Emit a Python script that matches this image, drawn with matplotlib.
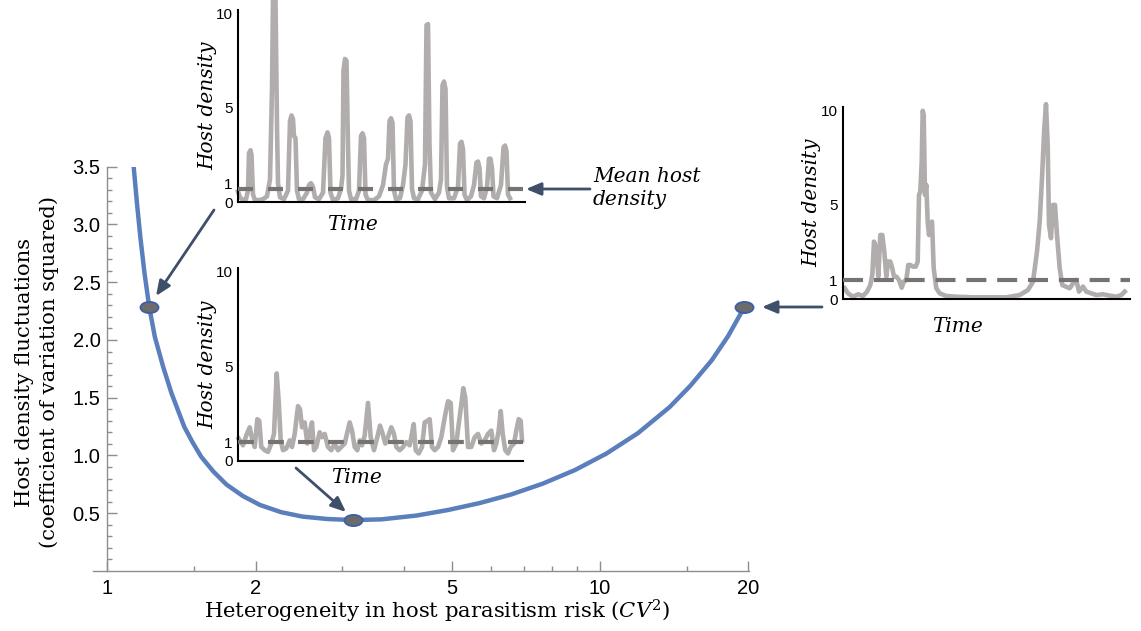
import matplotlib
matplotlib.use("Agg")
import matplotlib.pyplot as plt
from matplotlib.path import Path
from matplotlib.transforms import Affine2D
from matplotlib.patches import FancyArrowPatch
from matplotlib.ticker import FixedLocator, NullFormatter

plt.rcParams['mathtext.fontset'] = 'dejavuserif'

# main curve: heterogeneity in parasitism risk vs host density fluctuations
risk_cv2 = [1.1308, 1.1478, 1.1667, 1.1888, 1.2163, 1.2484, 1.2979, 1.3500, 1.4326, 1.4901,
            1.5504, 1.6414, 1.7452, 1.8843, 2.0426, 2.2494, 2.4889, 2.7997, 3.1543, 3.6002,
            4.2414, 4.9134, 5.6978, 6.5962, 7.6614, 8.8967, 10.299, 11.948, 13.846, 15.229,
            16.866, 18.197, 19.634]
host_cv2 = [3.50, 3.192, 2.889, 2.587, 2.284, 2.027, 1.767, 1.537, 1.248, 1.112,
            0.989, 0.861, 0.748, 0.649, 0.571, 0.510, 0.471, 0.450, 0.441, 0.447,
            0.480, 0.528, 0.588, 0.662, 0.757, 0.874, 1.016, 1.194, 1.419, 1.600,
            1.825, 2.033, 2.284]

# the three highlighted points
point_x = [1.2163, 3.1543, 19.634]
point_y = [2.284, 0.441, 2.284]

x_major = [1, 2, 5, 10, 20]
x_minor = [1.5, 3, 4, 6, 7, 8, 9, 15]
y_major = [0.5, 1.0, 1.5, 2.0, 2.5, 3.0, 3.5]
y_minor = [0.1, 0.2, 0.3, 0.4, 0.6, 0.7, 0.8, 0.9, 1.1, 1.2, 1.3, 1.4, 1.6, 1.7, 1.8, 1.9,
           2.1, 2.2, 2.3, 2.4, 2.6, 2.7, 2.8, 2.9, 3.1, 3.2, 3.3, 3.4]

# inset 1: low heterogeneity (top)
t_low = [0, 2, 5, 8, 10, 11, 12.5, 13.5, 15, 17, 21, 25, 29, 32, 34, 35, 37.5, 39, 40, 42,
         46, 50, 52, 53.5, 55, 56, 57.5, 59, 61, 65, 69, 71, 73, 75, 77, 81, 85, 87.5, 89.5,
         91, 92.5, 95, 100, 103, 104.5, 105.5, 107, 108.5, 110, 111, 113, 118, 121, 123,
         124.5, 126, 127.5, 130, 136, 141, 145, 148, 150, 151.5, 153, 154.5, 156, 158, 162,
         165, 167.5, 169.5, 171, 172.5, 174, 176, 180, 184, 187, 188.5, 190, 191.5, 193, 197,
         201, 203, 204.5, 206, 207.5, 209, 211, 216, 220, 222, 223.5, 225, 226.5, 229, 233,
         236, 238.5, 240, 241.5, 243, 246, 249, 251, 252.5, 254, 255.5, 259, 263, 265.5,
         267, 268.5, 270, 272]
v_low = [0.55, 0.25, 0.1, 0.15, 0.6, 2.6, 2.75, 2.5, 0.4, 0.1, 0.1, 0.15, 0.3, 1.2, 6.0,
         10.8, 10.8, 4.0, 1.0, 0.25, 0.15, 0.6, 4.3, 4.6, 4.4, 3.5, 3.4, 0.6, 0.15, 0.15,
         0.5, 0.9, 1.0, 0.8, 0.25, 0.15, 0.5, 3.4, 3.7, 3.4, 0.5, 0.1, 0.2, 0.7, 1.4, 7.0,
         7.6, 7.5, 3.0, 0.6, 0.15, 0.15, 0.6, 3.5, 3.65, 3.4, 0.4, 0.1, 0.1, 0.3, 0.9, 2.0,
         2.3, 4.3, 4.45, 4.2, 0.6, 0.15, 0.2, 0.9, 2.0, 4.5, 4.6, 4.3, 0.7, 0.2, 0.15, 0.6,
         2.0, 9.4, 9.45, 3.0, 0.5, 0.15, 0.5, 1.2, 6.2, 6.4, 6.0, 0.8, 0.2, 0.2, 0.8, 3.1,
         3.2, 2.8, 0.4, 0.1, 0.3, 0.9, 2.1, 2.15, 1.8, 0.3, 0.2, 0.8, 2.3, 2.3, 1.8, 0.3,
         0.2, 0.9, 2.9, 3.0, 2.7, 0.4, 0.2]
mean_low = 0.7

# inset 2: intermediate heterogeneity (middle)
t_mid = [0.7, 5, 8.3, 11.7, 14, 16.7, 19.3, 21.3, 23.3, 26.7, 30, 33.3, 36, 38.7, 40.7,
         42.7, 45, 48.3, 51.7, 54, 56.7, 60, 62, 64, 66.7, 69.3, 71.7, 74, 76, 78.3, 81.7,
         84, 86.7, 90, 93.3, 96.7, 100, 103.3, 106.7, 109.3, 111.7, 114, 116.7, 119.3,
         121.7, 124, 126.7, 130, 132.7, 136, 139.3, 142, 144.7, 147.3, 150, 153.3, 156,
         158.3, 161.7, 165, 168.3, 171.7, 173.3, 175.7, 177.7, 180.7, 184, 186.7, 189.3,
         191.7, 194, 196.7, 200, 203.3, 206.7, 210, 212.7, 215, 218.3, 220.7, 223.3, 225.3,
         227.3, 230, 233.3, 236.7, 240, 243.3, 246.7, 250, 253.3, 256, 258.3, 260.7, 262.7,
         264.7, 267.3, 270, 272.7, 276, 278.3, 280.7, 282.7, 284]
v_mid = [1.18, 0.83, 1.35, 1.78, 1.18, 0.74, 2.21, 2.12, 0.74, 0.57, 0.48, 0.92, 1.43,
         4.63, 3.16, 1.09, 0.57, 0.66, 1.09, 0.74, 1.43, 2.90, 2.73, 1.78, 2.04, 0.92, 1.52,
         2.04, 0.57, 0.74, 1.52, 1.26, 1.43, 0.74, 0.57, 0.92, 0.57, 0.74, 0.92, 1.52, 2.04,
         1.61, 0.74, 0.57, 1.09, 0.83, 1.35, 3.07, 1.26, 0.57, 1.26, 1.87, 1.43, 0.92, 1.26,
         1.78, 1.43, 0.74, 0.57, 0.74, 1.0, 0.83, 1.26, 1.95, 0.57, 0.40, 0.74, 2.04, 2.12,
         2.21, 0.74, 0.57, 0.74, 1.26, 2.30, 3.16, 3.07, 0.57, 0.92, 1.95, 2.99, 3.85, 3.33,
         0.74, 0.74, 1.26, 1.43, 0.92, 1.09, 1.43, 1.61, 0.57, 0.92, 1.61, 2.64, 1.43, 0.57,
         0.40, 0.74, 0.92, 1.61, 2.21, 2.12, 1.09]
mean_mid = 1.0

# inset 3: high heterogeneity (right)
t_high = [1.7, 5, 10, 15, 20, 24, 27.3, 29.3, 31, 33.3, 35.3, 37.3, 39.3, 41.3, 43.3, 45,
          47.3, 49.3, 51, 53.3, 56, 58.7, 60.7, 63.3, 65.3, 67.3, 70, 72.7, 74.7, 76, 77.3,
          78.7, 79.7, 80.7, 82, 83.3, 84.7, 86, 87.3, 89, 90.7, 93.3, 96.7, 103.3, 113.3,
          130, 146.7, 163.3, 176.7, 185, 190, 194, 196.7, 199, 201.3, 203, 204.7, 206, 208,
          210, 212, 214, 216.7, 219.3, 222.7, 226.7, 230, 233.3, 236, 240, 243.3, 248.3,
          253.3, 260, 266.7, 273.3, 278.3, 281.7]
v_high = [0.57, 0.30, 0.12, 0.25, 0.16, 0.39, 0.74, 1.28, 3.05, 2.70, 1.19, 3.40, 3.40,
          2.52, 1.19, 1.99, 1.99, 1.63, 1.19, 1.19, 1.01, 0.60, 0.92, 1.01, 1.81, 1.81, 1.72,
          1.72, 1.99, 5.53, 5.71, 7.30, 10.0, 9.79, 5.53, 6.06, 4.11, 3.40, 3.94, 4.11, 1.63,
          0.57, 0.30, 0.16, 0.12, 0.09, 0.09, 0.09, 0.21, 0.48, 0.92, 2.52, 4.11, 6.42, 9.08,
          10.35, 8.19, 3.94, 3.23, 5.0, 5.0, 3.40, 1.63, 0.74, 0.66, 0.57, 0.83, 1.01, 0.39,
          0.66, 0.39, 0.30, 0.21, 0.25, 0.18, 0.12, 0.21, 0.39]
mean_high = 1.0

W, H = 1141, 631
BLUE = '#5b7fbc'
ARROW = '#3f4e69'
GREY = '#b1adac'
DASH = '#777373'
SERIF = 'DejaVu Serif'
SANS = 'Liberation Sans'

fig = plt.figure(figsize=(W / 100, H / 100), dpi=100)


def px_axes(left, top, right, bottom):
    return fig.add_axes([left / W, 1 - bottom / H, (right - left) / W, (bottom - top) / H])


# ---- main panel
ax = px_axes(93, 166.7, 748.5, 571)
ax.set_xscale('log')
ax.set_xlim(0.935, 20.02)
ax.set_ylim(0, 3.5)
ax.plot(risk_cv2, host_cv2, color=BLUE, lw=3.2, solid_capstyle='butt',
        solid_joinstyle='round', zorder=2)

ellipse = Path.unit_circle().transformed(Affine2D().scale(1, 0.62))
ax.plot(point_x, point_y, ls='none', marker=ellipse, ms=13, mfc='#6b6b6b',
        mec='#3d5fa6', mew=1.3, zorder=3, clip_on=False)

for side in ['top', 'right']:
    ax.spines[side].set_visible(False)
ax.spines['left'].set_position(('data', 1))
for side in ['left', 'bottom']:
    ax.spines[side].set_color('#8e8e8e')
    ax.spines[side].set_linewidth(1)

ax.xaxis.set_major_locator(FixedLocator(x_major))
ax.xaxis.set_minor_locator(FixedLocator(x_minor))
ax.xaxis.set_minor_formatter(NullFormatter())
ax.set_xticklabels([str(v) for v in x_major])
ax.yaxis.set_major_locator(FixedLocator(y_major))
ax.yaxis.set_minor_locator(FixedLocator(y_minor))
ax.set_yticklabels([f'{v:.1f}' for v in y_major])
ax.tick_params(which='both', direction='in', color='#8e8e8e', width=1)
ax.tick_params(which='major', length=7)
ax.tick_params(which='minor', length=3.5)
ax.tick_params(axis='x', which='major', pad=6)
ax.tick_params(axis='y', which='major', pad=5)
for lab in ax.get_xticklabels() + ax.get_yticklabels():
    lab.set_fontfamily(SANS)
    lab.set_fontsize(14.5)
ax.patch.set_alpha(0)

fig.text(437 / W, 1 - 611 / H, 'Heterogeneity in host parasitism risk ($\\mathit{CV}^2$)',
         ha='center', va='center', fontsize=15.2, family=SERIF)
fig.text(37 / W, 1 - 372 / H, 'Host density fluctuations\n(coefficient of variation squared)',
         rotation=90, ha='center', va='center', multialignment='center', fontsize=15.2,
         family=SERIF, linespacing=1.35)


# ---- insets
def inset(box, t, v, mean, dashes, time_pos, ylab_x):
    a = px_axes(*box)
    a.patch.set_alpha(0)
    a.plot(t, v, color=GREY, lw=3.3, solid_joinstyle='round', zorder=2, clip_on=False)
    a.axhline(mean, color=DASH, lw=3, dashes=dashes, zorder=3)
    a.set_xlim(0, box[2] - box[0])
    a.set_ylim(0, 10.2)
    for side in ['top', 'right']:
        a.spines[side].set_visible(False)
    for side in ['left', 'bottom']:
        a.spines[side].set_linewidth(1.5)
        a.spines[side].set_color('black')
    a.set_xticks([])
    a.set_yticks([0, 1, 5, 10])
    a.tick_params(length=0, pad=4)
    for lab in a.get_yticklabels():
        lab.set_fontfamily(SANS)
        lab.set_fontsize(11)
    a.text(ylab_x, 0.5, 'Host density', rotation=90, transform=a.transAxes, ha='center',
           va='center', fontsize=14.5, style='italic', family=SERIF)
    a.text(time_pos[0], time_pos[1], 'Time', transform=a.transAxes, ha='center',
           va='center', fontsize=14.5, style='italic', family=SERIF)
    return a


inset((238, 10, 525, 202), t_low, v_low, mean_low, (3.6, 3.6), (0.40, -0.115), -0.105)
inset((238, 268, 523, 461), t_mid, v_mid, mean_mid, (3.8, 3.4), (0.415, -0.085), -0.105)
inset((843, 107, 1130, 299), t_high, v_high, mean_high, (4.8, 2.6), (0.40, -0.145), -0.108)

fig.text(593 / W, 1 - 188 / H, 'Mean host\ndensity', ha='left', va='center',
         fontsize=14.5, style='italic', family=SERIF, linespacing=1.25)


# ---- arrows (figure pixel positions)
def arrow(x0, y0, x1, y1):
    p = FancyArrowPatch((x0 / 100, (H - y0) / 100), (x1 / 100, (H - y1) / 100),
                        transform=fig.dpi_scale_trans,
                        arrowstyle='-|>,head_length=0.45,head_width=0.19',
                        mutation_scale=20, color=ARROW, lw=2, shrinkA=0, shrinkB=0, zorder=5)
    fig.add_artist(p)


arrow(214, 210, 156, 296)
arrow(296, 468, 346, 512)
arrow(822, 307, 762, 307)
arrow(590, 189, 526, 189)

fig.savefig('out.png', dpi=100)
